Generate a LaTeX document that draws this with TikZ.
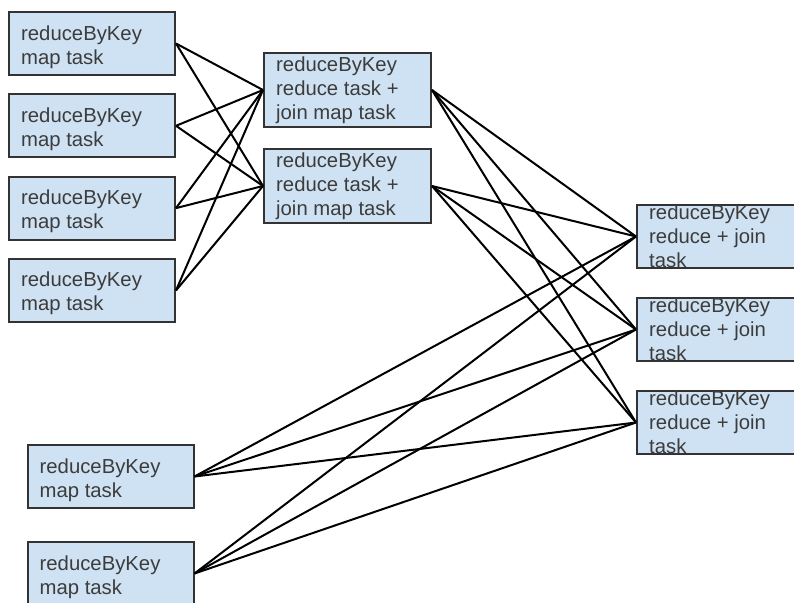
\documentclass[tikz,border=0pt]{standalone}
\usepackage{fontspec}
\setmainfont{Liberation Sans}
\usetikzlibrary{positioning}
\definecolor{boxfill}{HTML}{CFE2F3}
\definecolor{boxline}{HTML}{333333}
\definecolor{inktext}{HTML}{3C3C3C}
\tikzset{>=latex}

\begin{document}
\begin{tikzpicture}[x=1pt,y=-1pt,node distance=82.3pt,on grid,
    taskbox/.style={draw=boxline,fill=boxfill,line width=2pt,minimum width=166pt,minimum height=63pt,inner sep=0pt},
    joinbox/.style={taskbox,minimum width=167pt,minimum height=74pt},
    tasktext/.style={anchor=base west,align=left,inner sep=0pt,text=inktext,font=\fontsize{20.3}{24}\selectfont,xshift=13pt},
    wire/.style={line width=2pt,black}]
    \clip (0,0) rectangle (794,602);
    % map tasks, left column
    \node[taskbox] (map1) at (92,43.5) {};
    \node[taskbox] (map2) [below=of map1] {};
    \node[taskbox] (map3) [below=of map2] {};
    \node[taskbox] (map4) [below=of map3] {};
    % map tasks, bottom
    \node[taskbox] (bmap1) at (110.5,476.5) {};
    \node[taskbox] (bmap2) [below=97pt of bmap1] {};
    % reduce task + join map task
    \node[joinbox] (join1) at (347.5,90) {};
    \node[joinbox] (join2) [below=96pt of join1] {};
    % reduce + join task
    \node[taskbox] (red1) at (720,236.5) {};
    \node[taskbox] (red2) [below=93pt of red1] {};
    \node[taskbox] (red3) [below=93pt of red2] {};

    \path[wire]
        (map1.east) edge (join1.west) edge (join2.west)
        (map2.east) edge (join1.west) edge (join2.west)
        (map3.east) edge (join1.west) edge (join2.west)
        (map4.east) edge (join1.west) edge (join2.west)
        (join1.east) edge (red1.west) edge (red2.west) edge (red3.west)
        (join2.east) edge (red1.west) edge (red2.west) edge (red3.west)
        (bmap1.east) edge (red1.west) edge (red2.west) edge (red3.west)
        (bmap2.east) edge (red1.west) edge (red2.west) edge (red3.west)
    ;

    % texts (anchored at the baseline of their last line)
    \node[tasktext,yshift=-53pt] (map1txt) at (map1.north west) {reduceByKey\\map task};
    \node[tasktext,yshift=-53pt] (map2txt) at (map2.north west) {reduceByKey\\map task};
    \node[tasktext,yshift=-53pt] (map3txt) at (map3.north west) {reduceByKey\\map task};
    \node[tasktext,yshift=-53pt] (map4txt) at (map4.north west) {reduceByKey\\map task};
    \node[tasktext,yshift=-53pt] (bmap1txt) at (bmap1.north west) {reduceByKey\\map task};
    \node[tasktext,yshift=-53pt] (bmap2txt) at (bmap2.north west) {reduceByKey\\map task};
    \node[tasktext,yshift=-67pt] (join1txt) at (join1.north west) {reduceByKey\\reduce task +\\join map task};
    \node[tasktext,yshift=-67pt] (join2txt) at (join2.north west) {reduceByKey\\reduce task +\\join map task};
    \node[tasktext,yshift=-63pt] (red1txt) at (red1.north west) {reduceByKey\\reduce + join\\task};
    \node[tasktext,yshift=-63pt] (red2txt) at (red2.north west) {reduceByKey\\reduce + join\\task};
    \node[tasktext,yshift=-63pt] (red3txt) at (red3.north west) {reduceByKey\\reduce + join\\task};
\end{tikzpicture}
\end{document}
